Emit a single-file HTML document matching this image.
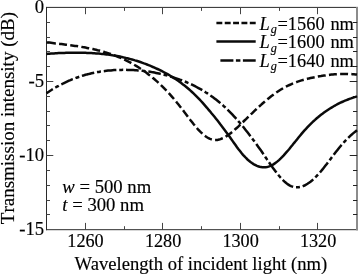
<!DOCTYPE html>
<html><head><meta charset="utf-8"><style>
html,body{margin:0;padding:0;background:#fff;}
svg{display:block;filter:blur(0.45px);font-family:"Liberation Serif",serif;font-size:18.7px;fill:#000;}
.i{font-style:italic;}
text{stroke:#000;stroke-width:0.16px;font-kerning:none;}
</style></head><body>
<svg width="358" height="274" viewBox="0 0 358 274">
<rect width="358" height="274" fill="#fff"/>
<g fill="none" stroke="#2a2a2a" stroke-width="1">
<path d="M46.5,7.4 H358 M46.5,6.9 V230.2 M46.0,229.7 H358"/>
<path d="M85.50,229.7 v-6.8 M85.50,7.4 v6.8 M124.50,229.7 v-3.5 M124.50,7.4 v3.5 M162.50,229.7 v-6.8 M162.50,7.4 v6.8 M201.50,229.7 v-3.5 M201.50,7.4 v3.5 M240.50,229.7 v-6.8 M240.50,7.4 v6.8 M279.50,229.7 v-3.5 M279.50,7.4 v3.5 M317.50,229.7 v-6.8 M317.50,7.4 v6.8 M46.5,22.50 h3.5 M46.5,37.50 h3.5 M46.5,51.50 h3.5 M46.5,66.50 h3.5 M46.5,81.50 h6.8 M46.5,96.50 h3.5 M46.5,111.50 h3.5 M46.5,125.50 h3.5 M46.5,140.50 h3.5 M46.5,155.50 h6.8 M46.5,170.50 h3.5 M46.5,185.50 h3.5 M46.5,200.50 h3.5 M46.5,214.50 h3.5" stroke="#444"/>
</g>
<rect x="356" y="7" width="2" height="223.3" fill="#8c8c8c"/>
<path d="M357.2,22.50 h-4.2 M357.2,37.50 h-4.2 M357.2,51.50 h-4.2 M357.2,66.50 h-4.2 M357.2,81.50 h-7.5 M357.2,96.50 h-4.2 M357.2,111.50 h-4.2 M357.2,125.50 h-4.2 M357.2,140.50 h-4.2 M357.2,155.50 h-7.5 M357.2,170.50 h-4.2 M357.2,185.50 h-4.2 M357.2,200.50 h-4.2 M357.2,214.50 h-4.2" fill="none" stroke="#222" stroke-width="1"/>
<g fill="none" stroke="#0a0a0a" stroke-width="2.5">
<path d="M46.5,42.2 48.0,42.4 49.5,42.6 51.0,42.8 52.5,43.0 54.0,43.2 55.5,43.4 57.0,43.5 58.5,43.7 60.0,43.9 61.5,44.1 63.0,44.3 64.5,44.5 66.0,44.7 67.5,44.9 69.0,45.1 70.5,45.3 72.0,45.5 73.5,45.7 75.0,45.9 76.5,46.1 78.0,46.3 79.5,46.6 81.0,46.8 82.5,47.1 84.0,47.3 85.5,47.6 87.0,47.9 88.5,48.2 90.0,48.5 91.5,48.8 93.0,49.1 94.5,49.4 96.0,49.8 97.5,50.2 99.0,50.5 100.5,50.9 102.0,51.3 103.5,51.7 105.0,52.2 106.5,52.6 108.0,53.1 109.5,53.6 111.0,54.1 112.5,54.6 114.0,55.2 115.5,55.8 117.0,56.3 118.5,57.0 120.0,57.6 121.5,58.2 123.0,58.9 124.5,59.6 126.0,60.3 127.5,61.1 129.0,61.9 130.5,62.6 132.0,63.5 133.5,64.3 135.0,65.2 136.5,66.1 138.0,67.0 139.5,68.0 141.0,69.0 142.5,70.0 144.0,71.0 145.5,72.1 147.0,73.2 148.5,74.4 150.0,75.5 151.5,76.7 153.0,78.0 154.5,79.3 156.0,80.6 157.5,81.9 159.0,83.3 160.5,84.7 162.0,86.1 163.5,87.6 165.0,89.2 166.5,90.7 168.0,92.3 169.5,93.9 171.0,95.6 172.5,97.3 174.0,99.1 175.5,100.8 177.0,102.7 178.5,104.5 180.0,106.4 181.5,108.3 183.0,110.3 184.5,112.3 186.0,114.2 187.5,116.2 189.0,118.2 190.5,120.2 192.0,122.1 193.5,124.0 195.0,125.8 196.5,127.6 198.0,129.3 199.5,130.9 201.0,132.4 202.5,133.8 204.0,135.1 205.5,136.3 207.0,137.3 208.5,138.2 210.0,138.9 211.5,139.4 213.0,139.8 214.5,140.0 216.0,140.0 217.5,139.9 219.0,139.6 220.5,139.1 222.0,138.5 223.5,137.9 225.0,137.1 226.5,136.1 228.0,135.1 229.5,134.1 231.0,132.9 232.5,131.7 234.0,130.4 235.5,129.0 237.0,127.7 238.5,126.3 240.0,124.8 241.5,123.4 243.0,122.0 244.5,120.5 246.0,119.1 247.5,117.6 249.0,116.2 250.5,114.7 252.0,113.3 253.5,111.8 255.0,110.4 256.5,109.0 258.0,107.6 259.5,106.2 261.0,104.9 262.5,103.5 264.0,102.2 265.5,100.9 267.0,99.6 268.5,98.4 270.0,97.2 271.5,96.0 273.0,94.9 274.5,93.8 276.0,92.7 277.5,91.7 279.0,90.7 280.5,89.7 282.0,88.9 283.5,88.0 285.0,87.2 286.5,86.4 288.0,85.7 289.5,85.0 291.0,84.3 292.5,83.6 294.0,83.0 295.5,82.5 297.0,81.9 298.5,81.4 300.0,80.9 301.5,80.4 303.0,80.0 304.5,79.6 306.0,79.2 307.5,78.8 309.0,78.4 310.5,78.1 312.0,77.8 313.5,77.5 315.0,77.2 316.5,76.9 318.0,76.6 319.5,76.3 321.0,76.1 322.5,75.8 324.0,75.6 325.5,75.4 327.0,75.2 328.5,75.0 330.0,74.8 331.5,74.6 333.0,74.5 334.5,74.3 336.0,74.2 337.5,74.1 339.0,74.0 340.5,74.0 342.0,73.9 343.5,73.9 345.0,73.9 346.5,73.9 348.0,73.9 349.5,74.0 351.0,74.1 352.5,74.2 354.0,74.3 355.5,74.4 357.0,74.6" stroke-dasharray="7.95 3.27" stroke-dashoffset="9.72"/>
<path d="M46.5,42.4 L48.5,42.55"/>
<path d="M46.5,53.9 48.0,53.8 49.5,53.7 51.0,53.6 52.5,53.5 54.0,53.4 55.5,53.3 57.0,53.2 58.5,53.1 60.0,53.1 61.5,53.0 63.0,52.9 64.5,52.9 66.0,52.8 67.5,52.8 69.0,52.8 70.5,52.7 72.0,52.7 73.5,52.7 75.0,52.7 76.5,52.7 78.0,52.7 79.5,52.7 81.0,52.7 82.5,52.7 84.0,52.8 85.5,52.8 87.0,52.9 88.5,52.9 90.0,53.0 91.5,53.1 93.0,53.2 94.5,53.3 96.0,53.4 97.5,53.5 99.0,53.6 100.5,53.8 102.0,53.9 103.5,54.1 105.0,54.2 106.5,54.4 108.0,54.6 109.5,54.8 111.0,55.0 112.5,55.3 114.0,55.5 115.5,55.8 117.0,56.0 118.5,56.3 120.0,56.6 121.5,56.9 123.0,57.3 124.5,57.6 126.0,58.0 127.5,58.3 129.0,58.7 130.5,59.1 132.0,59.5 133.5,59.9 135.0,60.4 136.5,60.8 138.0,61.3 139.5,61.8 141.0,62.3 142.5,62.8 144.0,63.4 145.5,63.9 147.0,64.5 148.5,65.1 150.0,65.7 151.5,66.3 153.0,67.0 154.5,67.6 156.0,68.3 157.5,69.0 159.0,69.7 160.5,70.4 162.0,71.2 163.5,72.0 165.0,72.8 166.5,73.6 168.0,74.4 169.5,75.3 171.0,76.2 172.5,77.1 174.0,78.1 175.5,79.0 177.0,80.0 178.5,81.1 180.0,82.1 181.5,83.2 183.0,84.4 184.5,85.5 186.0,86.7 187.5,88.0 189.0,89.3 190.5,90.6 192.0,92.0 193.5,93.4 195.0,94.8 196.5,96.3 198.0,97.8 199.5,99.4 201.0,101.0 202.5,102.7 204.0,104.4 205.5,106.1 207.0,107.8 208.5,109.6 210.0,111.3 211.5,113.2 213.0,115.0 214.5,116.8 216.0,118.7 217.5,120.6 219.0,122.5 220.5,124.5 222.0,126.4 223.5,128.4 225.0,130.4 226.5,132.5 228.0,134.5 229.5,136.6 231.0,138.7 232.5,140.9 234.0,143.0 235.5,145.1 237.0,147.2 238.5,149.2 240.0,151.1 241.5,153.0 243.0,154.8 244.5,156.4 246.0,158.0 247.5,159.5 249.0,160.8 250.5,162.0 252.0,163.1 253.5,164.1 255.0,164.9 256.5,165.7 258.0,166.3 259.5,166.7 261.0,167.1 262.5,167.2 264.0,167.3 265.5,167.2 267.0,167.0 268.5,166.6 270.0,166.1 271.5,165.4 273.0,164.6 274.5,163.6 276.0,162.6 277.5,161.4 279.0,160.1 280.5,158.7 282.0,157.2 283.5,155.6 285.0,153.9 286.5,152.2 288.0,150.5 289.5,148.7 291.0,146.8 292.5,145.0 294.0,143.1 295.5,141.3 297.0,139.4 298.5,137.5 300.0,135.7 301.5,133.9 303.0,132.1 304.5,130.4 306.0,128.8 307.5,127.2 309.0,125.6 310.5,124.1 312.0,122.7 313.5,121.2 315.0,119.9 316.5,118.5 318.0,117.3 319.5,116.0 321.0,114.8 322.5,113.7 324.0,112.6 325.5,111.5 327.0,110.5 328.5,109.5 330.0,108.5 331.5,107.6 333.0,106.7 334.5,105.8 336.0,105.0 337.5,104.2 339.0,103.4 340.5,102.7 342.0,102.0 343.5,101.3 345.0,100.7 346.5,100.1 348.0,99.5 349.5,98.9 351.0,98.4 352.5,97.8 354.0,97.3 355.5,96.9 357.0,96.4"/>
<path d="M46.5,93.2 48.0,92.2 49.5,91.2 51.0,90.3 52.5,89.3 54.0,88.4 55.5,87.5 57.0,86.7 58.5,85.9 60.0,85.0 61.5,84.3 63.0,83.5 64.5,82.8 66.0,82.1 67.5,81.4 69.0,80.7 70.5,80.1 72.0,79.4 73.5,78.9 75.0,78.3 76.5,77.7 78.0,77.2 79.5,76.7 81.0,76.2 82.5,75.7 84.0,75.3 85.5,74.8 87.0,74.4 88.5,74.1 90.0,73.7 91.5,73.3 93.0,73.0 94.5,72.7 96.0,72.4 97.5,72.1 99.0,71.9 100.5,71.6 102.0,71.4 103.5,71.2 105.0,71.0 106.5,70.8 108.0,70.6 109.5,70.5 111.0,70.4 112.5,70.2 114.0,70.1 115.5,70.1 117.0,70.0 118.5,69.9 120.0,69.9 121.5,69.9 123.0,69.8 124.5,69.8 126.0,69.8 127.5,69.9 129.0,69.9 130.5,69.9 132.0,70.0 133.5,70.1 135.0,70.2 136.5,70.3 138.0,70.4 139.5,70.5 141.0,70.7 142.5,70.8 144.0,71.0 145.5,71.2 147.0,71.4 148.5,71.6 150.0,71.8 151.5,72.1 153.0,72.3 154.5,72.6 156.0,72.9 157.5,73.2 159.0,73.5 160.5,73.9 162.0,74.2 163.5,74.6 165.0,75.0 166.5,75.4 168.0,75.8 169.5,76.2 171.0,76.7 172.5,77.1 174.0,77.6 175.5,78.1 177.0,78.6 178.5,79.1 180.0,79.7 181.5,80.2 183.0,80.8 184.5,81.4 186.0,82.0 187.5,82.7 189.0,83.3 190.5,84.0 192.0,84.7 193.5,85.4 195.0,86.2 196.5,87.0 198.0,87.8 199.5,88.6 201.0,89.4 202.5,90.3 204.0,91.2 205.5,92.2 207.0,93.1 208.5,94.1 210.0,95.2 211.5,96.2 213.0,97.3 214.5,98.4 216.0,99.6 217.5,100.8 219.0,102.0 220.5,103.2 222.0,104.5 223.5,105.9 225.0,107.2 226.5,108.6 228.0,110.1 229.5,111.6 231.0,113.1 232.5,114.7 234.0,116.3 235.5,117.9 237.0,119.6 238.5,121.3 240.0,123.0 241.5,124.8 243.0,126.6 244.5,128.5 246.0,130.4 247.5,132.3 249.0,134.2 250.5,136.2 252.0,138.2 253.5,140.2 255.0,142.2 256.5,144.3 258.0,146.4 259.5,148.5 261.0,150.6 262.5,152.8 264.0,155.0 265.5,157.2 267.0,159.4 268.5,161.6 270.0,163.7 271.5,165.9 273.0,168.0 274.5,170.0 276.0,172.0 277.5,174.0 279.0,175.8 280.5,177.5 282.0,179.2 283.5,180.7 285.0,182.1 286.5,183.3 288.0,184.4 289.5,185.3 291.0,186.1 292.5,186.6 294.0,187.0 295.5,187.3 297.0,187.3 298.5,187.3 300.0,187.0 301.5,186.7 303.0,186.1 304.5,185.5 306.0,184.7 307.5,183.8 309.0,182.8 310.5,181.7 312.0,180.5 313.5,179.2 315.0,177.7 316.5,176.2 318.0,174.6 319.5,173.0 321.0,171.2 322.5,169.4 324.0,167.5 325.5,165.6 327.0,163.7 328.5,161.7 330.0,159.7 331.5,157.7 333.0,155.7 334.5,153.7 336.0,151.8 337.5,149.9 339.0,148.0 340.5,146.2 342.0,144.5 343.5,142.8 345.0,141.1 346.5,139.6 348.0,138.1 349.5,136.6 351.0,135.2 352.5,133.9 354.0,132.6 355.5,131.4 357.0,130.2" stroke-dasharray="12.66 2.87 3.96 2.87" stroke-dashoffset="5.1"/>
<path d="M216.4,22.95 H255.7" stroke-dasharray="5.9 2.45"/>
<path d="M216.4,41.45 H255.7"/>
<path d="M220.4,60.5 H255.7" stroke-dasharray="13 2.5 4.5 2.5"/>
</g>
<text x="85.5" y="247.1" text-anchor="middle" font-size="18.2">1260</text><text x="163.1" y="247.1" text-anchor="middle" font-size="18.2">1280</text><text x="240.6" y="247.1" text-anchor="middle" font-size="18.2">1300</text><text x="318.1" y="247.1" text-anchor="middle" font-size="18.2">1320</text><text x="44.1" y="12.6" text-anchor="end">0</text><text x="44.1" y="86.7" text-anchor="end">-5</text><text x="44.1" y="160.8" text-anchor="end">-10</text><text x="44.1" y="234.9" text-anchor="end">-15</text>
<text x="74.4" y="269.5" font-size="18.6">W<tspan dx="-1.2">avelength of incident light (nm)</tspan></text>
<text transform="translate(13.7,224.2) rotate(-90)" font-size="19">Transmission intensity (dB)</text>
<g font-size="18.4">
<text x="259.6" y="30.0"><tspan class="i">L</tspan><tspan class="i" dy="3.3" dx="0.9" font-size="12.2">g</tspan><tspan dy="-3.3" dx="0.6">=1560<tspan x="330.4">nm</tspan></tspan></text>
<text x="259.6" y="48.4"><tspan class="i">L</tspan><tspan class="i" dy="3.3" dx="0.9" font-size="12.2">g</tspan><tspan dy="-3.3" dx="0.6">=1600<tspan x="330.4">nm</tspan></tspan></text>
<text x="259.6" y="66.8"><tspan class="i">L</tspan><tspan class="i" dy="3.3" dx="0.9" font-size="12.2">g</tspan><tspan dy="-3.3" dx="0.6">=1640<tspan x="330.4">nm</tspan></tspan></text>
</g>
<text x="62.3" y="192.9"><tspan class="i">w</tspan> = 500 nm</text>
<text x="62.3" y="210.8"><tspan class="i">t</tspan> = 300 nm</text>
</svg>
</body></html>
